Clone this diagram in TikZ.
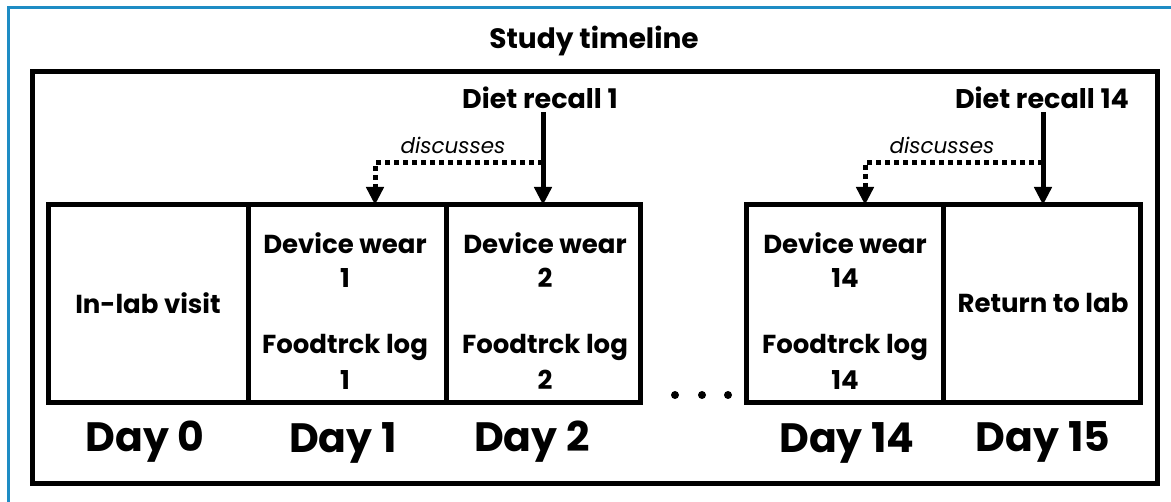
\documentclass[tikz,border=0pt]{standalone}
\usepackage{fontspec}
\setmainfont{Poppins}
\usetikzlibrary{arrows.meta}
\definecolor{frameblue}{RGB}{30,140,196}
\tikzset{
  daybox/.style={draw, line width=5pt, minimum width=#1, minimum height=198pt, inner sep=0pt, outer sep=0pt},
  boxtxt/.style={font=\fontsize{26}{30}\selectfont\bfseries, inner sep=0pt},
  daylbl/.style={font=\fontsize{41}{46}\selectfont\bfseries, inner sep=0pt},
  recall/.style={font=\fontsize{27}{30}\selectfont\bfseries, inner sep=0pt},
  disc/.style={font=\fontsize{21.5}{24}\selectfont\itshape, inner sep=0pt},
  solidarrow/.style={line width=5pt, -{Triangle[width=17pt,length=18pt]}},
  dotarrow/.style={line width=5pt, dash pattern=on 5pt off 4pt, -{Triangle[width=17pt,length=18pt]}},
}
\begin{document}
\begin{tikzpicture}[x=1pt,y=-1pt]
\clip (0,0) rectangle (1171,502);
\fill[white] (0,0) rectangle (1171,502);
\draw[frameblue, line width=2.5pt] (8.5,7.5) rectangle (1200,530);
\node[draw, line width=5pt, minimum width=1125pt, minimum height=412pt, inner sep=0pt] (frame) at (595,278) {};
\node[font=\fontsize{28}{32}\selectfont\bfseries, inner sep=0pt] (title) at (594,41) {Study timeline};

\node[daybox=200pt] (b0) at (148,304) {};
\node[daybox=198pt] (b1) at (347,304) {};
\node[daybox=194pt] (b2) at (543,304) {};
\node[daybox=197pt] (b14) at (844.5,304) {};
\node[daybox=197pt] (b15) at (1041.5,304) {};

\node[boxtxt] (t0) at (148,303) {In-lab visit};
\node[boxtxt] (t1a) at (345,243) {Device wear};
\node[boxtxt] (t1b) at (345,278) {1};
\node[boxtxt] (t1c) at (345,347) {Foodtrck log};
\node[boxtxt] (t1d) at (345,380) {1};
\node[boxtxt] (t2a) at (545,243) {Device wear};
\node[boxtxt] (t2b) at (545,278) {2};
\node[boxtxt] (t2c) at (545,347) {Foodtrck log};
\node[boxtxt] (t2d) at (545,380) {2};
\node[boxtxt] (t14a) at (845,243) {Device wear};
\node[boxtxt] (t14b) at (845,278) {14};
\node[boxtxt] (t14c) at (845,347) {Foodtrck log};
\node[boxtxt] (t14d) at (845,380) {14};
\node[boxtxt] (t15) at (1043,303) {Return to lab};

\node[daylbl] (d0) at (145,442) {Day 0};
\node[daylbl] (d1) at (343,443) {Day 1};
\node[daylbl] (d2) at (532,442) {Day 2};
\node[daylbl] (d14) at (847,443) {Day 14};
\node[daylbl] (d15) at (1043,442) {Day 15};

\node[circle, fill, inner sep=0pt, minimum size=8pt] (dot1) at (675,395) {};
\node[circle, fill, inner sep=0pt, minimum size=8pt] (dot2) at (702,395) {};
\node[circle, fill, inner sep=0pt, minimum size=8pt] (dot3) at (728,395) {};

\node[recall] (r1) at (540,98) {Diet recall 1};
\node[recall] (r14) at (1042,98) {Diet recall 14};
\node[disc] (disc1) at (453,145) {discusses};
\node[disc] (disc14) at (942,145) {discusses};

\coordinate (k1) at (543,163);
\coordinate (j1) at (375,163);
\coordinate (k14) at (1043,163);
\coordinate (j14) at (865,163);

\draw[solidarrow] (k1 |- r1.south) ++(0,3) -- (k1 |- b2.north);
\draw[dotarrow] (k1) -- (j1) -- (j1 |- b1.north);
\draw[solidarrow] (k14 |- r14.south) ++(0,3) -- (k14 |- b15.north);
\draw[dotarrow] (k14) -- (j14) -- (j14 |- b14.north);
\end{tikzpicture}
\end{document}
